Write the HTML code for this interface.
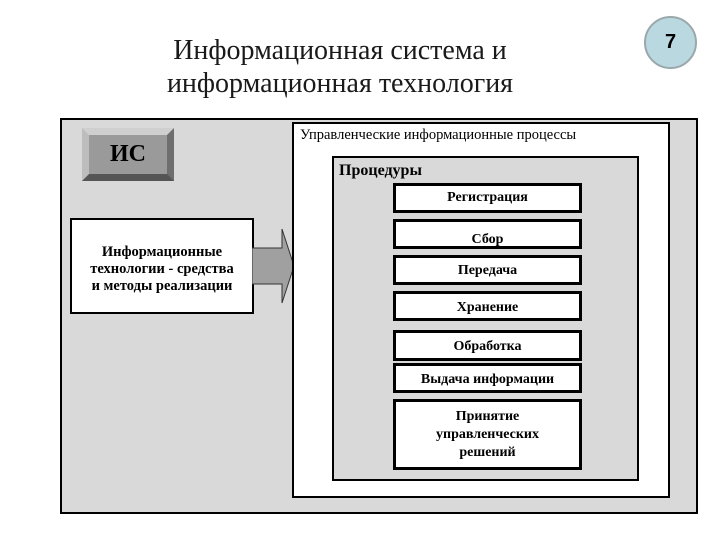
<!DOCTYPE html>
<html><head><meta charset="utf-8"><style>
body{margin:0;width:720px;height:540px;background:#fff;position:relative;overflow:hidden;font-family:"Liberation Serif","Noto Serif CJK SC",serif;}
div{position:absolute;box-sizing:border-box;}
.t{text-align:center;font-weight:bold;color:#111;}
.b{background:#fff;border:3px solid #000;font-size:14px;font-weight:bold;text-align:center;left:393px;width:189px;}
</style></head><body>
<div class="t" style="left:80px;top:34px;width:520px;font-size:28px;line-height:33px;font-weight:normal;color:#1a1a1a">Информационная система и<br>информационная технология</div>
<div style="left:644px;top:16px;width:53px;height:53px;border-radius:50%;background:#b9d8e0;border:2px solid #9aa8ab;font-family:'Liberation Sans',sans-serif;font-weight:bold;font-size:20px;text-align:center;line-height:49px">7</div>
<div style="left:60px;top:118px;width:638px;height:396px;background:#d9d9d9;border:2px solid #000"></div>
<div style="left:82px;top:128px;width:92px;height:53px;background:#9a9a9a;border:1px solid #000;border-top:7px solid #cfcfcf;border-left:7px solid #bdbdbd;border-right:7px solid #6e6e6e;border-bottom:7px solid #555;font-size:24px;font-weight:bold;text-align:center;line-height:38px">ИС</div>
<div style="left:70px;top:218px;width:184px;height:96px;background:#fff;border:2px solid #000;font-size:14.5px;font-weight:bold;text-align:center;padding-top:24px;line-height:17px">Информационные<br>технологии - средства<br>и методы реализации</div>
<svg style="position:absolute;left:252px;top:228px" width="45" height="76"><polygon points="0,20 30,20 30,1 42,38 30,75 30,56 0,56" fill="#a0a0a0" stroke="#333" stroke-width="1"/></svg>
<div style="left:292px;top:122px;width:378px;height:376px;background:#fff;border:2px solid #000"></div>
<div style="left:300px;top:127px;font-size:14.5px;white-space:nowrap">Управленческие информационные процессы</div>
<div style="left:332px;top:156px;width:307px;height:325px;background:#d9d9d9;border:2px solid #000"></div>
<div style="left:339px;top:162px;font-size:16px;font-weight:bold">Процедуры</div>
<div class="b" style="top:183px;height:30px;line-height:24px">Регистрация</div>
<div class="b" style="top:219px;height:30px;line-height:36px">Сбор</div>
<div class="b" style="top:255px;height:30px;line-height:26px">Передача</div>
<div class="b" style="top:291px;height:30px;line-height:28px">Хранение</div>
<div class="b" style="top:330px;height:31px;line-height:28px">Обработка</div>
<div class="b" style="top:363px;height:30px;line-height:28px">Выдача информации</div>
<div class="b" style="top:399px;height:71px;line-height:18px;padding-top:6px">Принятие<br>управленческих<br>решений</div>
</body></html>
